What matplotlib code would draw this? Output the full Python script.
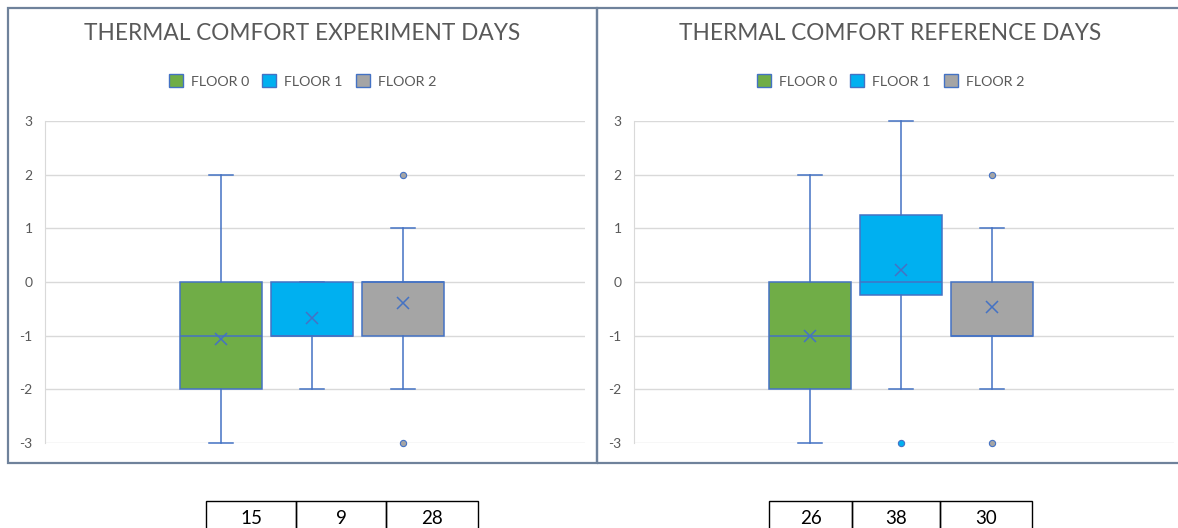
import numpy as np
import matplotlib.pyplot as plt
from matplotlib.patches import Rectangle, Patch

plt.rcParams['font.family'] = ['Lato', 'DejaVu Sans']
plt.rcParams['axes.unicode_minus'] = False

# Thermal comfort votes per floor (box-and-whisker summaries)
floors = ['FLOOR 0', 'FLOOR 1', 'FLOOR 2']
colors = ['#70AD47', '#00B0F0', '#A5A5A5']
edge = '#4472C4'

exp_q1 = [-2, -1, -1]
exp_med = [-1, -1, 0]
exp_q3 = [0, 0, 0]
exp_lo = [-3, -2, -2]
exp_hi = [2, 0, 1]
exp_mean = [-1.07, -0.67, -0.39]
exp_fliers = [[], [], [2, -3]]
exp_counts = [15, 9, 28]

ref_q1 = [-2, -0.25, -1]
ref_med = [-1, 0, -1]
ref_q3 = [0, 1.25, 0]
ref_lo = [-3, -2, -2]
ref_hi = [2, 3, 1]
ref_mean = [-1.0, 0.23, -0.47]
ref_fliers = [[], [-3], [2, -3]]
ref_counts = [26, 38, 30]

W, H = 1178, 528
fig = plt.figure(figsize=(W / 100, H / 100), dpi=100)


def px(x0, y0, w, h):
    # pixel box (from top-left) -> figure fraction rect
    return [x0 / W, 1 - (y0 + h) / H, w / W, h / H]


def panel(x_left, x_right, title, q1, med, q3, lo, hi, mean, fliers, counts, cells):
    # frame around the chart
    fig.add_artist(Rectangle((x_left / W, 1 - 463 / H), (x_right - x_left) / W, (463 - 8) / H,
                             transform=fig.transFigure, fill=False,
                             edgecolor='#6F829B', lw=1.6))
    cx = (x_left + x_right) / 2 / W
    fig.text(cx, 1 - 34 / H, title, ha='center', va='center', fontsize=16.3,
             color='#595959')

    ax = fig.add_axes(px(x_left + 37, 121, 540, 322))
    stats = []
    for i in range(3):
        stats.append(dict(q1=q1[i], med=med[i], q3=q3[i], whislo=lo[i],
                          whishi=hi[i], mean=mean[i], fliers=fliers[i]))
    bp = ax.bxp(stats, positions=[0, 1, 2], widths=0.9, capwidths=0.26,
                patch_artist=True, showmeans=True, showfliers=True,
                boxprops=dict(edgecolor=edge, lw=1.1),
                medianprops=dict(color=edge, lw=1.1),
                whiskerprops=dict(color=edge, lw=1.1),
                capprops=dict(color=edge, lw=1.1),
                meanprops=dict(marker='x', markersize=8, markeredgecolor=edge,
                               markeredgewidth=1.1),
                flierprops=dict(marker='o', markersize=4.5,
                                markeredgecolor=edge, markeredgewidth=0.8))
    for box, fl, c in zip(bp['boxes'], bp['fliers'], colors):
        box.set_facecolor(c)
        fl.set_markerfacecolor(c)
        fl.set_clip_on(False)
    for ln in bp['caps'] + bp['whiskers'] + bp['means']:
        ln.set_clip_on(False)

    ax.set_xlim(-1.934, 4.0)
    ax.set_ylim(-3, 3)
    ax.set_yticks(range(-3, 4))
    ax.set_xticks([])
    ax.yaxis.grid(True, color='#D9D9D9', lw=1.0)
    ax.set_axisbelow(True)
    for s in ['top', 'right', 'bottom']:
        ax.spines[s].set_visible(False)
    ax.spines['left'].set_color('#D9D9D9')
    ax.tick_params(axis='y', length=0, pad=9, labelsize=10, labelcolor='#595959')

    handles = [Patch(facecolor=c, edgecolor=edge, lw=1.0) for c in colors]
    fig.legend(handles, floors, loc='center', bbox_to_anchor=(cx, 1 - 81 / H),
               ncol=3, frameon=False, fontsize=10.3, labelcolor='#595959',
               handlelength=1.0, handleheight=1.0, handletextpad=0.55,
               columnspacing=0.9)

    # sample counts under each floor
    for i, n in enumerate(counts):
        x0, x1 = cells[i], cells[i + 1]
        fig.add_artist(Rectangle((x0 / W, -0.05), (x1 - x0) / W, (1 - 501 / H) + 0.05,
                                 transform=fig.transFigure, fill=False,
                                 edgecolor='black', lw=1.0))
        fig.text((x0 + x1) / 2 / W, 1 - 518 / H, str(n), ha='center', va='center',
                 fontsize=13.5, color='black')
    return ax


panel(8, 597, 'THERMAL COMFORT EXPERIMENT DAYS', exp_q1, exp_med, exp_q3, exp_lo,
      exp_hi, exp_mean, exp_fliers, exp_counts, [206, 296, 386, 478])
panel(597, 1184, 'THERMAL COMFORT REFERENCE DAYS', ref_q1, ref_med, ref_q3, ref_lo,
      ref_hi, ref_mean, ref_fliers, ref_counts, [769, 852, 940, 1032])

fig.savefig('out.png', dpi=100)
